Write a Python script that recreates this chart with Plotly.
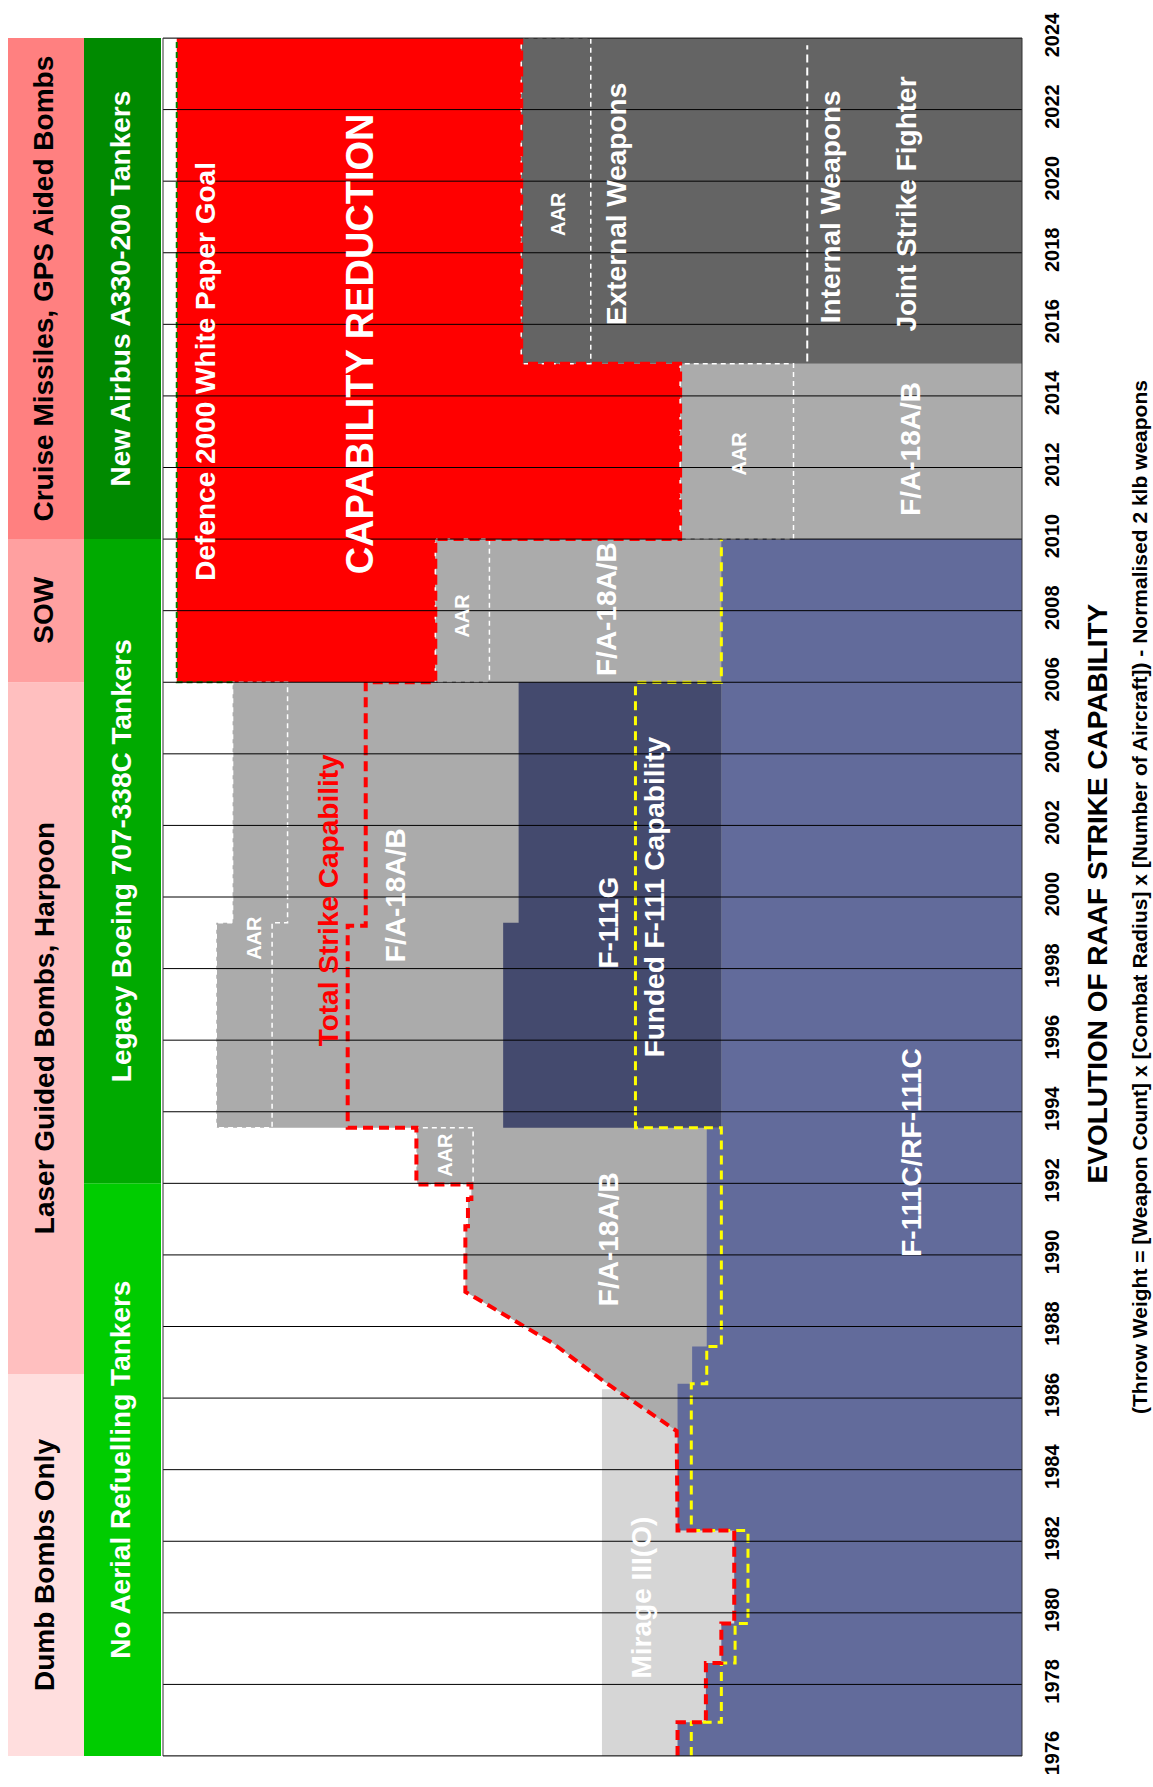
import plotly.graph_objects as go

# ---------------- data ----------------
YEAR_MIN, YEAR_MAX = 1976, 2024
TICK_YEARS = list(range(1976, 2025, 2))

WEAPON_ERAS = ["Dumb Bombs Only", "Laser Guided Bombs, Harpoon", "SOW",
               "Cruise Missiles, GPS Aided Bombs"]
WEAPON_ERA_START = [1976, 1986.67, 2006, 2010]
WEAPON_ERA_END = [1986.67, 2006, 2010, 2024]

TANKER_ERAS = ["No Aerial Refuelling Tankers", "Legacy Boeing 707-338C Tankers",
               "New Airbus A330-200 Tankers"]
TANKER_ERA_START = [1976, 1992, 2010]
TANKER_ERA_END = [1992, 2010, 2024]

# step series: value i holds from YEARS[i] to YEARS[i+1]
F111C_YEARS = [1976, 1976.94, 1978.6, 1979.7, 1982.3, 1986.4, 1987.44, 1993.55, 2010]
F111C_VALUES = [40.1, 36.8, 35.0, 33.5, 40.1, 38.4, 36.7, 35.0]

F111G_YEARS = [1993.55, 1999.28, 2006]
F111G_TOP = [60.4, 58.6]

FUNDED_YEARS = [1976, 1976.94, 1978.6, 1979.7, 1982.3, 1986.4, 1987.44, 1993.55, 2006, 2010]
FUNDED_VALUES = [38.5, 35.0, 33.4, 31.9, 38.5, 36.7, 35.0, 45.0, 35.0]

MIRAGE_YEARS = [1976, 1986.25]
MIRAGE_VALUES = [48.9]

# F/A-18A/B (incl. AAR) outer edge, point series
FA18_YEARS = [1985.08, 1986.47, 1987.53, 1988.97, 1990.8, 1990.8, 1991.56, 1991.56,
              1991.97, 1991.97, 1993.55, 1993.55, 1999.28, 1999.28, 2006, 2006,
              2010, 2010, 2014.9]
FA18_EDGE = [40.2, 48.7, 54.6, 64.8, 64.8, 64.5, 64.5, 64.1,
             64.1, 70.5, 70.5, 93.8, 93.8, 91.9, 91.9, 68.3,
             68.3, 39.8, 39.8]

JSF_YEARS = [2014.9, 2024]
JSF_VALUES = [58.3]
INTERNAL_WEAPONS_YEARS = [2014.96, 2023.8]
INTERNAL_WEAPONS_VALUE = [25.0]

# AAR blocks: years, outer edge, inner edge
AAR_YEARS = [[1991.97, 1993.55], [1993.55, 1999.28, 2006], [2006, 2010],
             [2010, 2014.9], [2014.9, 2024]]
AAR_OUTER = [[70.5], [93.8, 91.9], [68.3], [39.8], [58.3]]
AAR_INNER = [[63.9], [87.3, 85.5], [62.0], [26.6], [50.2]]

TOTAL_YEARS = [1976, 1976.94, 1976.94, 1978.6, 1978.6, 1979.7, 1979.7, 1982.3, 1982.3,
               1985.08, 1986.47, 1987.53, 1988.97, 1990.8, 1990.8, 1991.56, 1991.56,
               1991.97, 1991.97, 1993.55, 1993.55, 1999.2, 1999.2, 2006, 2006,
               2010, 2010, 2014.9, 2014.9, 2024]
TOTAL_VALUES = [40.1, 40.1, 36.8, 36.8, 35.0, 35.0, 33.5, 33.5, 40.1,
                40.2, 48.7, 54.6, 64.8, 64.8, 64.5, 64.5, 64.1,
                64.1, 70.5, 70.5, 78.5, 78.5, 76.4, 76.4, 68.3,
                68.3, 39.8, 39.8, 58.3, 58.3]

GOAL_YEARS = [2006, 2006, 2024]
GOAL_VALUES = [91.9, 98.4, 98.4]

LABEL_TEXT = ["Defence 2000 White Paper Goal", "CAPABILITY REDUCTION", "AAR",
              "External Weapons", "Internal Weapons", "Joint Strike Fighter",
              "AAR", "F/A-18A/B", "AAR", "F/A-18A/B", "AAR",
              "Total Strike Capability", "F/A-18A/B", "F-111G",
              "Funded F-111 Capability", "AAR", "F/A-18A/B", "F-111C/RF-111C",
              "Mirage III(O)"]

TITLE = "EVOLUTION OF RAAF STRIKE CAPABILITY"
SUBTITLE = ("(Throw Weight = [Weapon Count] x [Combat Radius] x [Number of Aircraft])"
            " - Normalised 2 klb weapons")

# ---------------- styles / positions ----------------
FONT = "Liberation Sans, Arial, sans-serif"
WEAPON_COLORS = ["#FFDEDE", "#FFBFBF", "#FFA0A0", "#FF8080"]
TANKER_COLORS = ["#00CC00", "#00AA00", "#008A00"]
C_F111C = "#626B9B"
C_F111G = "#444A6E"
C_FA18 = "#ABABAB"
C_MIRAGE = "#D6D6D6"
C_JSF = "#646464"
C_RED = "#FF0000"

LABEL_POS = [(95.1, 2014.68), (77.1, 2015.46), (54.0, 2019.09), (47.2, 2019.35),
             (22.2, 2019.28), (13.4, 2019.37), (32.9, 2012.4), (13.0, 2012.53),
             (65.2, 2007.86), (48.3, 2008.05), (89.4, 1998.86), (80.7, 1999.9),
             (73.0, 2000.05), (48.1, 1999.28), (42.8, 2000.0), (67.2, 1992.79),
             (48.2, 1990.44), (12.9, 1992.86), (44.3, 1980.44)]
LABEL_SIZE = [28, 38, 20, 28, 28, 28, 20, 28, 20, 28, 20, 28, 28, 28, 28, 20, 28, 28, 28]
LABEL_COLOR = ["white"] * len(LABEL_TEXT)
LABEL_COLOR[11] = C_RED


def step_path(years, values):
    xs, ys = [], []
    for i, v in enumerate(values):
        xs += [v, v]
        ys += [years[i], years[i + 1]]
    return xs, ys


fig = go.Figure()


def area(xs, ys, color):
    fig.add_trace(go.Scatter(x=xs, y=ys, fill="toself", fillcolor=color, mode="lines",
                             line=dict(width=0, color=color), hoverinfo="skip"))


def dashed(xs, ys, color, width, dash):
    fig.add_trace(go.Scatter(x=xs, y=ys, mode="lines", hoverinfo="skip",
                             line=dict(color=color, width=width, dash=dash)))


# Mirage
mx, my = step_path(MIRAGE_YEARS, MIRAGE_VALUES)
area([0] + mx + [0], [my[0]] + my + [my[-1]], C_MIRAGE)

# capability reduction (between goal and total, from 2006)
tot_after = [(y, v) for y, v in zip(TOTAL_YEARS, TOTAL_VALUES) if y >= GOAL_YEARS[0]]
red_x = GOAL_VALUES[1:] + [v for _, v in tot_after][::-1]
red_y = GOAL_YEARS[1:] + [y for y, _ in tot_after][::-1]
area(red_x, red_y, C_RED)

# F/A-18 + AAR
area([0] + FA18_EDGE + [0], [FA18_YEARS[0]] + FA18_YEARS + [FA18_YEARS[-1]], C_FA18)

# JSF
jx, jy = step_path(JSF_YEARS, JSF_VALUES)
area([0] + jx + [0], [jy[0]] + jy + [jy[-1]], C_JSF)

# F-111C
cx, cy = step_path(F111C_YEARS, F111C_VALUES)
area([0] + cx + [0], [cy[0]] + cy + [cy[-1]], C_F111C)

# F-111G stacked on F-111C
gx, gy = step_path(F111G_YEARS, F111G_TOP)
base = F111C_VALUES[-1]
area(gx + [base, base], gy + [gy[-1], gy[0]], C_F111G)

# AAR outlines
for yrs, outer, inner in zip(AAR_YEARS, AAR_OUTER, AAR_INNER):
    ox, oy = step_path(yrs, outer)
    ix, iy = step_path(yrs, inner)
    dashed(ox + ix[::-1] + [ox[0]], oy + iy[::-1] + [oy[0]], "white", 1.5, "5px,4px")

# internal weapons divider
wx, wy = step_path(INTERNAL_WEAPONS_YEARS, INTERNAL_WEAPONS_VALUE)
dashed(wx, wy, "white", 2, "8px,5px")

# funded F-111 capability
fx, fy = step_path(FUNDED_YEARS, FUNDED_VALUES)
dashed(fx, fy, "#FFFF00", 3, "9px,6px")

# goal
dashed(GOAL_VALUES, GOAL_YEARS, "#008000", 2, "6px,4px")

# total strike capability
dashed(TOTAL_VALUES, TOTAL_YEARS, C_RED, 4, "10px,6px")

# ---------------- layout ----------------
L, R, T, B = 163, 131, 34, 23
W, H = 1153, 1787
PW = W - L - R


def px_to_paper(px):
    return (px - L) / PW


shapes = []
for s, e, col in zip(WEAPON_ERA_START, WEAPON_ERA_END, WEAPON_COLORS):
    shapes.append(dict(type="rect", xref="paper", yref="y", x0=px_to_paper(8),
                       x1=px_to_paper(84), y0=s, y1=e, fillcolor=col, line=dict(width=0),
                       layer="above"))
for s, e, col in zip(TANKER_ERA_START, TANKER_ERA_END, TANKER_COLORS):
    shapes.append(dict(type="rect", xref="paper", yref="y", x0=px_to_paper(84),
                       x1=px_to_paper(161), y0=s, y1=e, fillcolor=col, line=dict(width=0),
                       layer="above"))
for yv in TICK_YEARS:
    shapes.append(dict(type="line", xref="paper", yref="y", x0=0, x1=1, y0=yv, y1=yv,
                       line=dict(color="black", width=1), layer="above"))
shapes.append(dict(type="rect", xref="paper", yref="paper", x0=0, x1=1, y0=0, y1=1,
                   line=dict(color="#333333", width=1), layer="above"))

annotations = []
for txt, s, e in zip(WEAPON_ERAS, WEAPON_ERA_START, WEAPON_ERA_END):
    annotations.append(dict(text=f"<b>{txt}</b>", xref="paper", yref="y",
                            x=px_to_paper(44), y=(s + e) / 2, textangle=-90,
                            showarrow=False, xanchor="center", yanchor="middle",
                            font=dict(family=FONT, size=28, color="black")))
for txt, s, e in zip(TANKER_ERAS, TANKER_ERA_START, TANKER_ERA_END):
    annotations.append(dict(text=f"<b>{txt}</b>", xref="paper", yref="y",
                            x=px_to_paper(121), y=(s + e) / 2, textangle=-90,
                            showarrow=False, xanchor="center", yanchor="middle",
                            font=dict(family=FONT, size=28, color="white")))
for txt, (xv, yv), sz, col in zip(LABEL_TEXT, LABEL_POS, LABEL_SIZE, LABEL_COLOR):
    annotations.append(dict(text=f"<b>{txt}</b>", x=xv, y=yv, xref="x", yref="y",
                            textangle=-90, showarrow=False, xanchor="center",
                            yanchor="middle", font=dict(family=FONT, size=sz, color=col)))
annotations.append(dict(text=f"<b>{TITLE}</b>", xref="paper", yref="y",
                        x=px_to_paper(1097), y=2000.1, textangle=-90, showarrow=False,
                        xanchor="center", yanchor="middle",
                        font=dict(family=FONT, size=28, color="black")))
annotations.append(dict(text=f"<b>{SUBTITLE}</b>", xref="paper", yref="y",
                        x=px_to_paper(1139), y=2000.0, textangle=-90, showarrow=False,
                        xanchor="center", yanchor="middle",
                        font=dict(family=FONT, size=21, color="black")))

fig.update_layout(
    width=W, height=H, margin=dict(l=L, r=R, t=T, b=B, pad=0),
    paper_bgcolor="white", plot_bgcolor="white", showlegend=False,
    xaxis=dict(range=[100, 0], showgrid=False, zeroline=False, showticklabels=False,
               ticks="", fixedrange=True),
    yaxis=dict(range=[YEAR_MIN, YEAR_MAX], side="right", tickvals=TICK_YEARS,
               ticktext=[f"<b>{y}</b>" for y in TICK_YEARS], tickangle=-90,
               tickfont=dict(family=FONT, size=20, color="black"), showgrid=False,
               zeroline=False, ticks="", ticklabelstandoff=16, fixedrange=True),
    shapes=shapes, annotations=annotations,
)

fig.write_html("out.html")
